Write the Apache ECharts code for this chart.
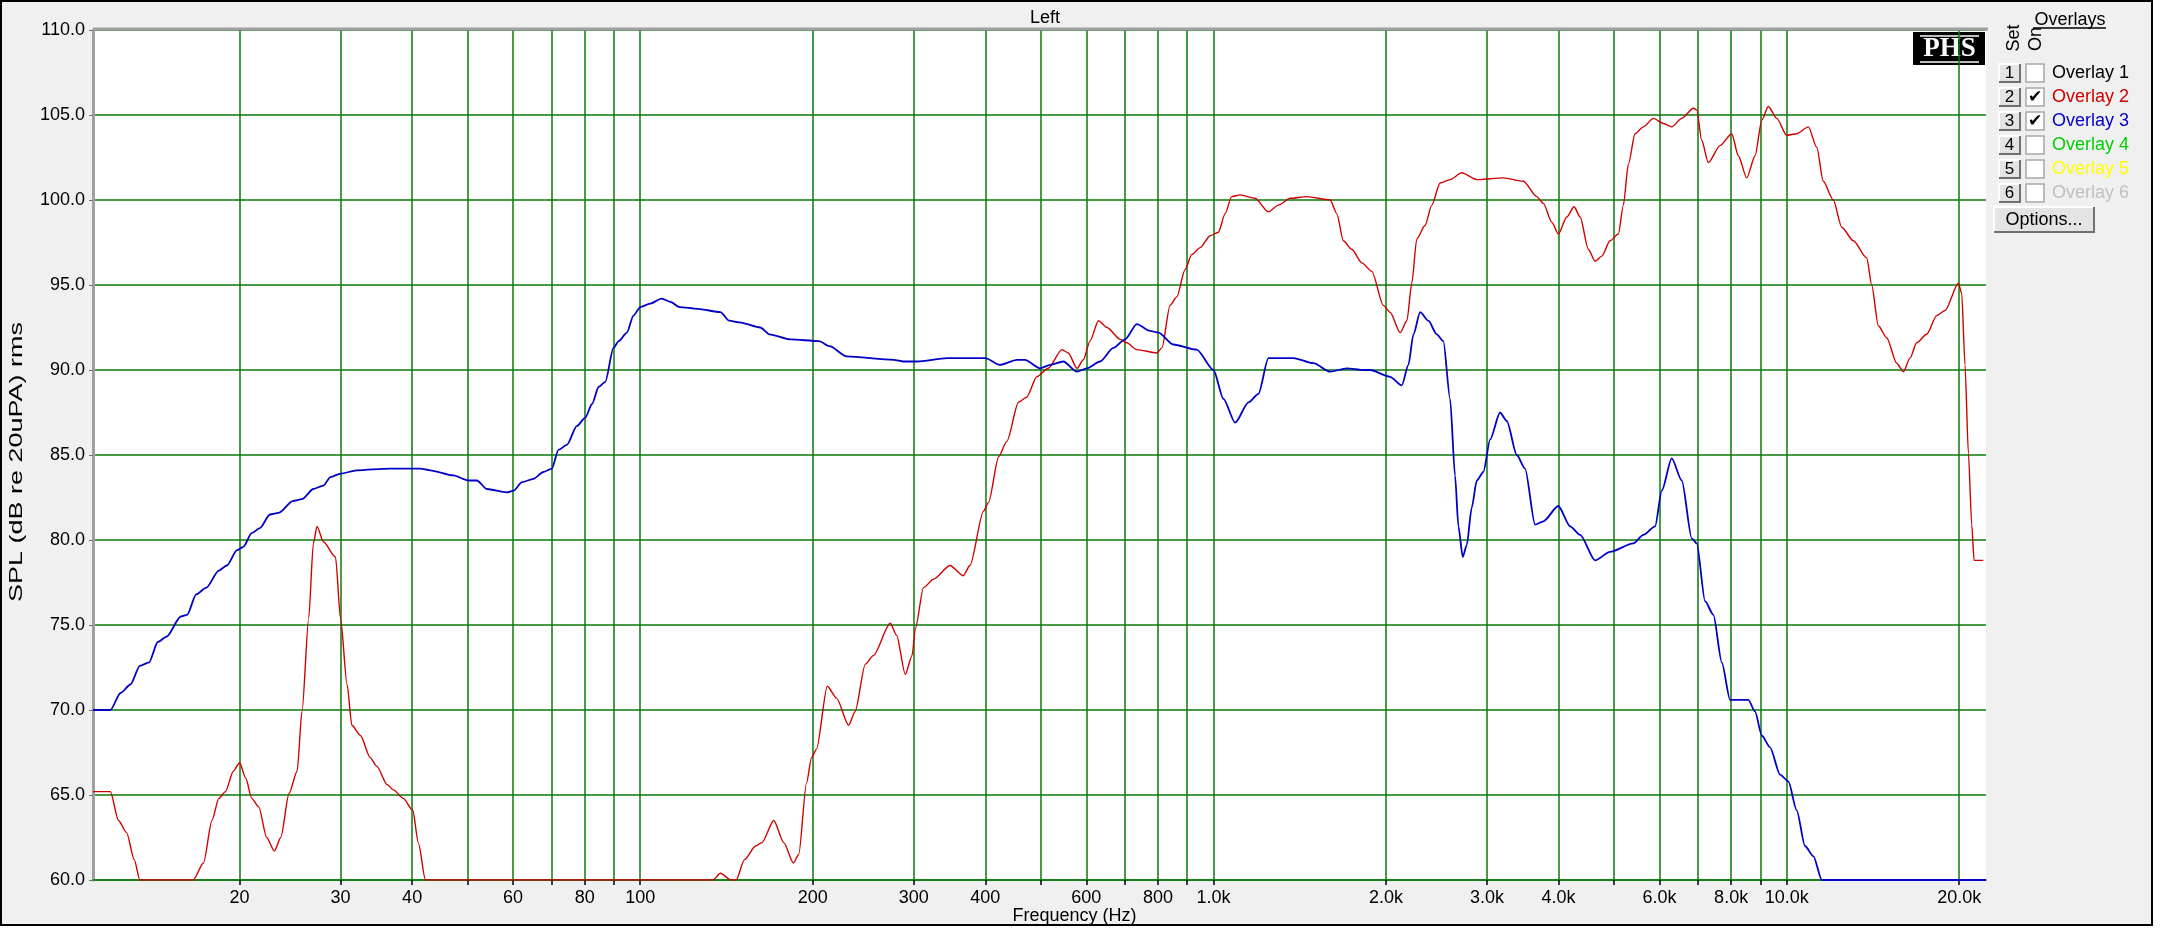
<!DOCTYPE html>
<html><head><meta charset="utf-8">
<script src="https://cdn.jsdelivr.net/npm/echarts@6/dist/echarts.min.js"></script>
<style>html,body{margin:0;padding:0;background:#fff;}#chart{width:2176px;height:946px;}</style>
</head><body><div id="chart"></div>
<script>
// ---- data ----
const overlay2Freq = [11.1,11.9,12.3,12.7,13.1,13.4,16.6,17.3,17.9,18.4,
 18.9,19.5,20.0,20.5,21.0,21.6,22.3,23.0,23.6,24.4,
 25.2,25.7,26.4,26.9,27.3,28.0,29.4,30.0,30.8,31.4,
 32.5,33.8,34.7,36.2,37.1,38.6,40.1,41.0,42.2,134,
 138,144,147,152,159,163,171,178,185,189,
 195,199,203,212,220,231,237,247,255,273,
 280,290,298,302,312,325,347,366,376,397,
 405,422,436,457,472,492,515,544,558,578,
 593,609,630,652,688,706,735,797,813,840,
 863,892,917,948,987,1020,1048,1076,1113,1182,
 1247,1298,1361,1455,1598,1641,1685,1743,1815,1889,
 1979,2033,2117,2175,2218,2263,2339,2404,2485,2587,
 2711,2880,3205,3473,3664,3763,3892,3996,4135,4257,
 4362,4508,4632,4758,4919,5086,5189,5294,5439,5623,
 5854,6094,6302,6561,6875,6968,7109,7300,7650,8020,
 8236,8517,8808,9048,9290,9610,10002,10411,10910,11283,
 11585,12061,12474,13070,13790,14072,14450,14944,15560,15977,
 16412,16860,17550,18270,18890,19930,20200,20470,20750,21030,
 21230,22030];
const overlay2Db = [65.2,65.2,63.5,62.8,61.2,60.0,60.0,61.0,63.5,64.8,
 65.2,66.4,66.9,66.0,64.8,64.3,62.5,61.7,62.5,65.1,
 66.4,69.9,75.4,79.8,80.8,79.9,79.0,75.4,71.5,69.1,
 68.5,67.2,66.7,65.6,65.3,64.8,64.1,62.2,60.0,60.0,
 60.4,60.0,60.0,61.2,62.0,62.2,63.5,62.2,61.0,61.5,
 65.7,67.2,67.7,71.4,70.7,69.1,69.9,72.7,73.2,75.1,
 74.4,72.1,73.2,74.8,77.2,77.7,78.5,77.9,78.5,81.7,
 82.2,84.9,85.8,88.1,88.4,89.6,90.1,91.2,91.0,90.1,
 90.6,91.7,92.9,92.5,91.8,91.6,91.2,91.0,91.3,93.8,
 94.3,95.9,96.8,97.2,97.9,98.1,99.2,100.2,100.3,100.1,
 99.3,99.7,100.1,100.2,100.0,99.2,97.6,97.1,96.3,95.8,
 93.8,93.4,92.2,92.9,95.1,97.7,98.5,99.7,101.0,101.2,
 101.6,101.2,101.3,101.1,100.2,99.8,98.7,98.0,99.0,99.6,
 99.0,97.1,96.4,96.7,97.6,98.0,99.7,102.1,103.9,104.3,
 104.8,104.5,104.3,104.8,105.4,105.3,103.5,102.2,103.2,103.9,
 102.6,101.3,102.6,104.7,105.5,104.8,103.8,103.9,104.3,103.1,
 101.1,100.0,98.4,97.6,96.6,95.0,92.6,91.9,90.4,89.9,
 90.7,91.6,92.1,93.2,93.5,95.1,94.5,90.3,85.1,80.9,
 78.8,78.8];
const overlay3Freq = [11.1,11.9,12.4,12.9,13.4,13.9,14.4,14.9,15.8,16.2,
 16.8,17.5,18.4,19.0,19.8,20.3,21.0,21.7,22.6,23.4,
 24.8,25.7,26.9,28.0,28.8,30.0,32.0,36.6,41.3,43.0,
 47.2,50.2,51.9,54.0,58.5,60.1,62.2,65.1,67.8,70.1,
 72.0,74.5,77.5,80.2,82.4,84.6,86.9,89.8,91.7,94.8,
 97.3,100,104,109,113,117,126,138,143,149,
 162,168,183,205,214,229,277,288,304,343,
 400,424,454,469,498,519,547,578,601,634,
 669,701,735,775,802,851,935,1000,1041,1091,
 1151,1198,1247,1379,1494,1598,1709,1827,1876,2033,
 2131,2188,2233,2294,2371,2452,2518,2587,2639,2675,
 2722,2766,2822,2880,2957,3038,3162,3249,3382,3496,
 3640,3763,3996,4190,4362,4632,4919,5401,5623,5894,
 6055,6302,6561,6830,6968,7205,7450,7705,7967,8574,
 8808,9048,9354,9737,10067,10411,10765,11131,11515,22270];
const overlay3Db = [70.0,70.0,71.0,71.5,72.6,72.8,74.0,74.3,75.5,75.6,
 76.8,77.2,78.2,78.5,79.4,79.6,80.4,80.7,81.5,81.6,
 82.3,82.4,83.0,83.2,83.7,83.9,84.1,84.2,84.2,84.1,
 83.8,83.5,83.5,83.0,82.8,82.9,83.4,83.6,84.0,84.2,
 85.3,85.6,86.7,87.2,88.0,89.0,89.3,91.3,91.7,92.2,
 93.2,93.7,93.9,94.2,94.0,93.7,93.6,93.4,92.9,92.8,
 92.5,92.1,91.8,91.7,91.4,90.8,90.6,90.5,90.5,90.7,
 90.7,90.3,90.6,90.6,90.1,90.3,90.5,89.9,90.1,90.5,
 91.3,91.8,92.7,92.3,92.2,91.5,91.2,90.0,88.3,86.9,
 88.1,88.6,90.7,90.7,90.4,89.9,90.1,90.0,90.0,89.6,
 89.1,90.3,92.1,93.4,92.9,92.1,91.7,88.3,83.8,80.8,
 79.0,79.7,81.9,83.5,84.0,85.9,87.5,87.0,85.0,84.2,
 80.9,81.1,82.0,80.8,80.3,78.8,79.3,79.8,80.3,80.8,
 82.9,84.8,83.5,80.1,79.8,76.4,75.6,72.8,70.6,70.6,
 69.9,68.5,67.8,66.2,65.8,64.1,62.0,61.4,60.0,60.0];
const gridFreqs = [20,30,40,50,60,70,80,90,100,200,300,400,500,600,700,800,900,1000,2000,3000,4000,5000,6000,7000,8000,9000,10000,20000];
const labelFreqs = [20,30,40,60,80,100,200,300,400,600,800,1000,2000,3000,4000,6000,8000,10000,20000];
const freqMin = 11.1, freqMax = 22270;
const dbMin = 60, dbMax = 110, dbStep = 5;
const overlayNames = ['Overlay 1','Overlay 2','Overlay 3','Overlay 4','Overlay 5','Overlay 6'];
const overlayColors = ['#000000','#d00000','#0000c8','#00d000','#ffff00','#c0c0c0'];
const overlayOn = [false,true,true,false,false,false];
const yAxisTitle = 'SPL (dB re 20uPA) rms';

// ---- chart ----
const FONT = '"Liberation Sans", Arial, sans-serif';
const GREEN = '#0a7a0a';
const zip = (a,b) => a.map((v,i) => [v, b[i]]);
const chart = echarts.init(document.getElementById('chart'), null, {renderer:'canvas'});

function raisedBox(x,y,w,h){
  return [
    {type:'rect', shape:{x:x,y:y,width:w,height:h}, style:{fill:'#e4e4e4', stroke:null}},
    {type:'polyline', shape:{points:[[x,y+h],[x,y],[x+w,y]]}, style:{stroke:'#ffffff', lineWidth:2, fill:null}},
    {type:'polyline', shape:{points:[[x+w,y],[x+w,y+h],[x,y+h]]}, style:{stroke:'#707070', lineWidth:2, fill:null}}
  ];
}
const panel = [];
panel.push({type:'text', x:2070, y:20, style:{text:'Overlays', font:'18px '+FONT, fill:'#000', align:'center', verticalAlign:'middle'}});
panel.push({type:'line', shape:{x1:2033,y1:28,x2:2106,y2:28}, style:{stroke:'#000', lineWidth:1.5}});
panel.push({type:'text', x:2014, y:38, rotation:Math.PI/2, style:{text:'Set', font:'18px '+FONT, fill:'#000', align:'center', verticalAlign:'middle'}});
panel.push({type:'text', x:2036, y:39, rotation:Math.PI/2, style:{text:'On', font:'18px '+FONT, fill:'#000', align:'center', verticalAlign:'middle'}});
overlayNames.forEach((name,i) => {
  const cy = 73 + 24*i;
  raisedBox(1999, cy-9, 21, 18).forEach(e => panel.push(e));
  panel.push({type:'text', x:2009.5, y:cy, style:{text:String(i+1), font:'17px '+FONT, fill:'#000', align:'center', verticalAlign:'middle'}});
  panel.push({type:'rect', shape:{x:2026,y:cy-9,width:18,height:18}, style:{fill:'#ffffff', stroke:'#a8a8a8', lineWidth:1.5}});
  if (overlayOn[i]) panel.push({type:'text', x:2035, y:cy+1, style:{text:'\u2714', font:'bold 17px "DejaVu Sans"', fill:'#000', align:'center', verticalAlign:'middle'}});
  panel.push({type:'text', x:2052, y:cy, style:{text:name, font:'18px '+FONT, fill:overlayColors[i], align:'left', verticalAlign:'middle'}});
});
raisedBox(1994, 207, 100, 25).forEach(e => panel.push(e));
panel.push({type:'text', x:2044, y:220, style:{text:'Options...', font:'18px '+FONT, fill:'#000', align:'center', verticalAlign:'middle'}});

const option = {
  animation:false,
  backgroundColor:'#f0f0f0',
  title:{text:'Left', left:1040, top:4, textAlign:'center', textStyle:{fontFamily:FONT, fontSize:18, fontWeight:'normal', color:'#000'}},
  grid:{left:93, top:30, width:1893, height:850, show:true, backgroundColor:'#ffffff', borderWidth:0},
  xAxis:{
    type:'log', logBase:10, min:freqMin, max:freqMax,
    name:'Frequency (Hz)', nameLocation:'middle', nameGap:27, nameMoveOverlap:false,
    nameTextStyle:{fontFamily:FONT, fontSize:18, color:'#000', padding:[0,0,0,70]},
    axisLine:{show:true, lineStyle:{color:GREEN, width:1.5}},
    axisTick:{show:true, customValues:gridFreqs, length:5, lineStyle:{color:'#000', width:1.5}},
    axisLabel:{customValues:labelFreqs, fontFamily:FONT, fontSize:18, color:'#000', margin:9,
      formatter: v => v >= 1000 ? (v/1000).toFixed(1)+'k' : String(Math.round(v))},
    splitLine:{show:true, lineStyle:{color:GREEN, width:1.5}},
    minorTick:{show:false}, minorSplitLine:{show:false}
  },
  yAxis:{
    type:'value', min:dbMin, max:dbMax, interval:dbStep,
    axisLine:{show:true, lineStyle:{color:'#a0a0a0', width:3}},
    axisTick:{show:true, length:4, lineStyle:{color:'#707070'}},
    axisLabel:{fontFamily:FONT, fontSize:18, color:'#000', margin:8, formatter: v => v.toFixed(1)},
    splitLine:{show:true, lineStyle:{color:GREEN, width:1.5}}
  },
  series:[
    {name:'Overlay 2', type:'line', data:zip(overlay2Freq, overlay2Db), showSymbol:false, smooth:0.25, smoothMonotone:'x',
      lineStyle:{color:overlayColors[1], width:1.4}, itemStyle:{color:overlayColors[1]}, z:3},
    {name:'Overlay 3', type:'line', data:zip(overlay3Freq, overlay3Db), showSymbol:false, smooth:0.25, smoothMonotone:'x',
      lineStyle:{color:overlayColors[2], width:1.8}, itemStyle:{color:overlayColors[2]}, z:4}
  ],
  graphic:[
    {type:'rect', shape:{x:2153,y:0,width:30,height:946}, style:{fill:'#ffffff'}, silent:true},
    {type:'rect', shape:{x:0,y:926,width:2176,height:30}, style:{fill:'#ffffff'}, silent:true},
    {type:'rect', shape:{x:1,y:1,width:2151,height:924}, style:{fill:null, stroke:'#000', lineWidth:2}, silent:true},
    {type:'line', shape:{x1:93,y1:29,x2:1988,y2:29}, style:{stroke:'#a0a0a0', lineWidth:3}, z:10},
    {type:'text', x:17, y:462, rotation:Math.PI/2, scaleX:1.5, scaleY:1,
      style:{text:yAxisTitle, font:'18px '+FONT, fill:'#000', align:'center', verticalAlign:'middle'}},
    {type:'group', children:[
      {type:'rect', shape:{x:1913,y:32,width:72,height:33}, style:{fill:'#000'}},
      {type:'line', shape:{x1:1920,y1:36,x2:1979,y2:36}, style:{stroke:'#fff', lineWidth:1.5}},
      {type:'line', shape:{x1:1920,y1:62,x2:1979,y2:62}, style:{stroke:'#fff', lineWidth:1.5}},
      {type:'text', x:1949.5, y:49.5, style:{text:'PHS', font:'bold 27px "Liberation Serif", "DejaVu Serif", serif', fill:'#fff', align:'center', verticalAlign:'middle'}}
    ], z:20},
    {type:'group', children:panel}
  ]
};
chart.setOption(option);
</script></body></html>
